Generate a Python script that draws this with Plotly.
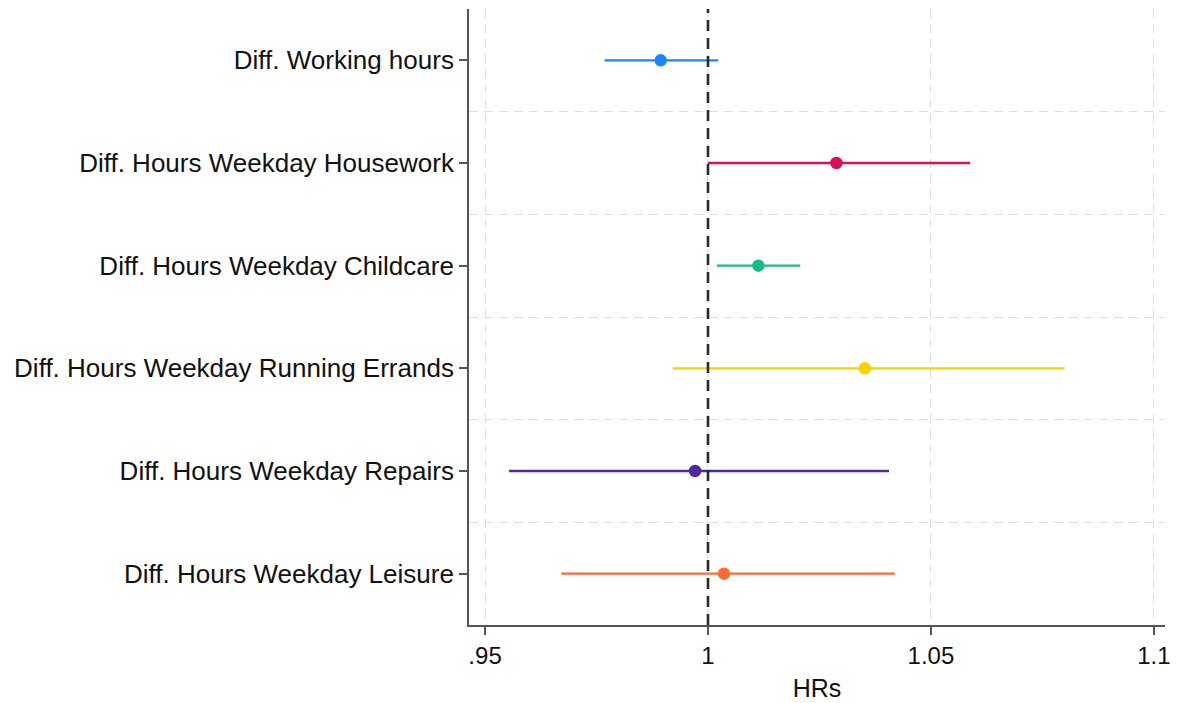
import plotly.graph_objects as go

categories = [
    "Diff. Working hours",
    "Diff. Hours Weekday Housework",
    "Diff. Hours Weekday Childcare",
    "Diff. Hours Weekday Running Errands",
    "Diff. Hours Weekday Repairs",
    "Diff. Hours Weekday Leisure",
]
estimates = [0.9894, 1.0288, 1.0113, 1.0352, 0.9971, 1.0036]
ci_low = [0.9768, 1.0000, 1.0020, 0.9921, 0.9554, 0.9671]
ci_high = [1.0023, 1.0588, 1.0207, 1.0800, 1.0406, 1.0419]
colors = ["#1A85FF", "#D41159", "#12BF80", "#F8D100", "#4A2A9E", "#FF6A33"]

x_tickvals = [0.95, 1.0, 1.05, 1.1]
x_ticktext = [".95", "1", "1.05", "1.1"]

FONT = "Liberation Sans, Arial, Helvetica, sans-serif"

fig = go.Figure()
positions = list(range(len(categories)))
for i, cat in enumerate(categories):
    est = estimates[i]
    fig.add_trace(go.Scatter(
        x=[est], y=[positions[i]], mode="markers",
        marker=dict(color=colors[i], size=12.5),
        error_x=dict(type="data", symmetric=False,
                     array=[ci_high[i] - est], arrayminus=[est - ci_low[i]],
                     color=colors[i], thickness=2.4, width=0),
        name=cat, showlegend=False,
    ))

# reference line at HR = 1
fig.add_shape(type="line", x0=1, x1=1, y0=0, y1=1, xref="x", yref="paper",
              line=dict(color="#2a2a2a", width=2.6, dash="11px,7px"), layer="above")

fig.update_layout(
    width=1171, height=695,
    margin=dict(l=461, r=14, t=1, b=78),
    paper_bgcolor="white", plot_bgcolor="white",
    font=dict(family=FONT, size=26, color="#111111"),
    xaxis=dict(
        range=[0.9464, 1.1025],
        tickvals=x_tickvals, ticktext=x_ticktext,
        showgrid=True, gridcolor="#dedede", griddash="9px,6px", gridwidth=1.3,
        showline=True, linecolor="#555555", linewidth=1.8,
        ticks="outside", ticklen=8, tickwidth=1.5, tickcolor="#555555",
        zeroline=False,
        title=dict(text="HRs", font=dict(size=25), standoff=12),
        tickfont=dict(size=24),
    ),
    yaxis=dict(
        range=[5.5, -0.5],
        tickvals=positions, ticktext=categories,
        showgrid=False,
        minor=dict(tickvals=[0.5, 1.5, 2.5, 3.5, 4.5], showgrid=True,
                   gridcolor="#dedede", griddash="9px,6px", gridwidth=1.3,
                   ticks=""),
        showline=True, linecolor="#555555", linewidth=1.8,
        ticks="outside", ticklen=8, tickwidth=1.5, tickcolor="#555555",
        zeroline=False,
        tickfont=dict(size=26),
    ),
)

fig.write_html("out.html")
